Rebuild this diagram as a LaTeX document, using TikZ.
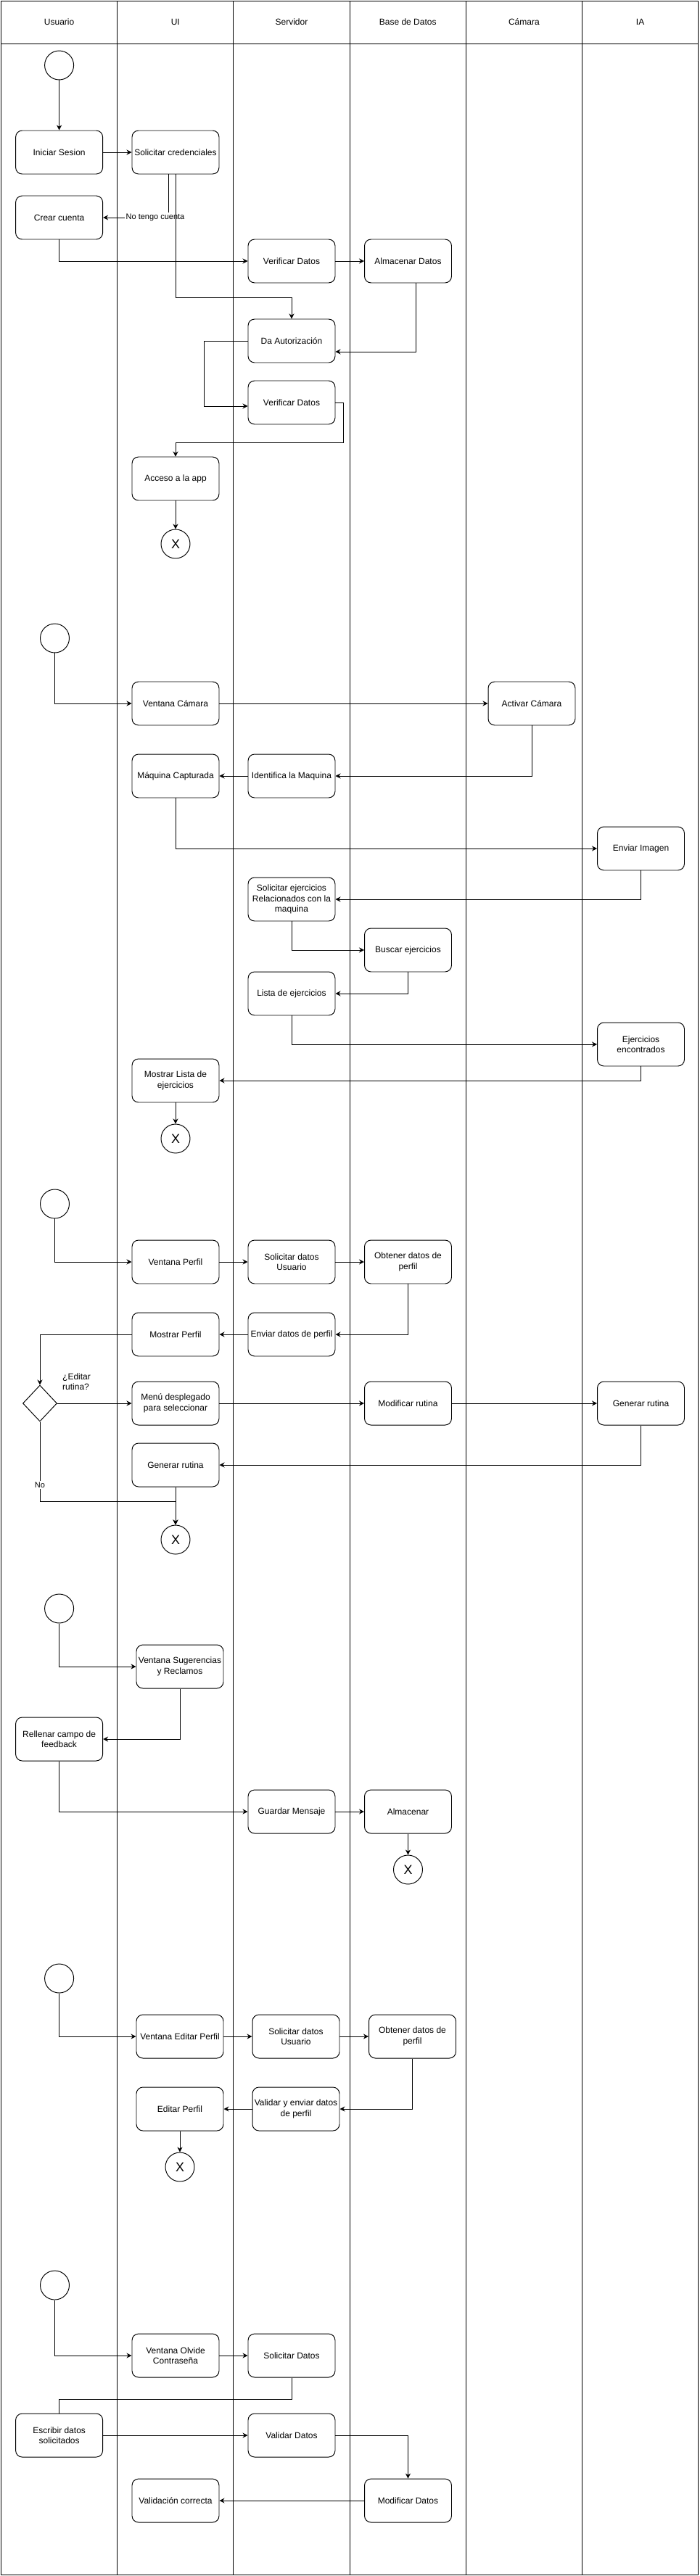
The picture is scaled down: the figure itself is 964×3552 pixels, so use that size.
\documentclass[tikz,border=0pt]{standalone}
\usepackage{fontspec}
\setmainfont{Liberation Sans}
\usetikzlibrary{shapes.geometric,arrows.meta,positioning,calc}

\begin{document}
\begin{tikzpicture}[
    x=0.02cm, y=-0.02cm,
    font=\fontsize{6.83pt}{8.2pt}\selectfont,
    lane/.style={draw, line width=0.55pt},
    box/.style={draw, rounded corners=0.18cm, minimum width=2.4cm, minimum height=1.2cm, inner sep=1pt, align=center, fill=white, line width=0.55pt},
    startev/.style={draw, circle, minimum size=0.8cm, inner sep=0pt, fill=white, line width=0.55pt},
    endev/.style={startev, font=\fontsize{10.2pt}{12pt}\selectfont},
    decision/.style={draw, diamond, aspect=0.94, minimum width=0.94cm, minimum height=1cm, inner sep=0pt, fill=white, line width=0.55pt},
    link/.style={line width=0.5pt},
    arrow/.style={link, -{Stealth[length=4pt, width=4pt]}},
    edgelbl/.style={font=\fontsize{6.26pt}{7.5pt}\selectfont, fill=white, inner sep=1pt}
]
\useasboundingbox (0,0) rectangle (964,3552);

% Swimlanes with headers
\foreach \lname [count=\i from 0] in {Usuario,UI,Servidor,Base de Datos,Cámara,IA} {
    \draw[lane] ({1.5+160.2*\i},1) rectangle ++(160.2,3549);
    \draw[lane] ({1.5+160.2*\i},60) -- ++(160.2,0);
    \node (lane\i) at ({81.6+160.2*\i},30) {\lname};
}

% Login / crear cuenta
\node[startev] (ini1) at (81.6,90) {};
\node[box] (sesion) at (81.6,210) {Iniciar Sesion};
\node[box] (cred) at (242,210) {Solicitar credenciales};
\node[box] (crear) at (81.6,300) {Crear cuenta};
\node[box] (verif1) at (402,360) {Verificar Datos};
\node[box] (almac1) at (562.5,360) {Almacenar Datos};
\node[box] (autor) at (402,470) {Da Autorización};
\node[box] (verif2) at (402,555) {Verificar Datos};
\node[box] (acceso) at (242,660) {Acceso a la app};
\node[endev] (fin1) at (242,750) {X};

\draw[arrow] (ini1) -- (sesion);
\draw[arrow] (sesion) -- (cred);
\draw[arrow] ([xshift=-0.2cm]cred.south) |- node[edgelbl, pos=0.6] {No tengo cuenta} (crear.east);
\draw[arrow] (cred.south) -- ++(0,170) -| (autor.north);
\draw[arrow] (crear.south) |- (verif1.west);
\draw[arrow] (verif1) -- (almac1);
\draw[arrow] ([xshift=0.21cm]almac1.south) |- ([yshift=-0.3cm]autor.east);
\draw[arrow] (autor.west) -- ++(-60,0) |- ([yshift=-0.1cm]verif2.west);
\draw[arrow] (verif2.east) -- ++(10.6,0) -- ++(0,55) -| (acceso.north);
\draw[arrow] (acceso) -- (fin1);

% Camara / ejercicios
\node[startev] (ini2) at (75.5,880) {};
\node[box] (vcam) at (242,970) {Ventana Cámara};
\node[box] (acam) at (733,970) {Activar Cámara};
\node[box] (ident) at (402,1070) {Identifica la Maquina};
\node[box] (capt) at (242,1070) {Máquina Capturada};
\node[box] (envimg) at (883.5,1170) {Enviar Imagen};
\node[box] (solej) at (402,1240) {Solicitar ejercicios\\Relacionados con la\\maquina};
\node[box] (busc) at (562.5,1310) {Buscar ejercicios};
\node[box] (lista) at (402,1370) {Lista de ejercicios};
\node[box] (encon) at (883.5,1440) {Ejercicios\\encontrados};
\node[box] (mostl) at (242,1490) {Mostrar Lista de\\ejercicios};
\node[endev] (fin2) at (242,1570) {X};

\draw[arrow] (ini2.south) |- (vcam.west);
\draw[arrow] (vcam) -- (acam);
\draw[arrow] (acam.south) |- (ident.east);
\draw[arrow] (ident) -- (capt);
\draw[arrow] (capt.south) |- (envimg.west);
\draw[arrow] (envimg.south) |- (solej.east);
\draw[arrow] (solej.south) |- (busc.west);
\draw[arrow] (busc.south) |- (lista.east);
\draw[arrow] (lista.south) |- (encon.west);
\draw[arrow] (encon.south) |- (mostl.east);
\draw[arrow] (mostl) -- (fin2);

% Perfil / rutina
\node[startev] (ini3) at (75.5,1660) {};
\node[box] (vperf) at (242,1740) {Ventana Perfil};
\node[box] (soldat) at (402,1740) {Solicitar datos\\Usuario};
\node[box] (obten) at (562.5,1740) {Obtener datos de\\perfil};
\node[box] (envdat) at (402,1840) {Enviar datos de perfil};
\node[box] (mperf) at (242,1840) {Mostrar Perfil};
\node[decision] (dec) at (55,1935) {};
\node[anchor=west, align=left] (declbl) at (80,1905) {¿Editar\\rutina?};
\node[box] (menu) at (242,1935) {Menú desplegado\\para seleccionar};
\node[box] (modr) at (562.5,1935) {Modificar rutina};
\node[box] (genia) at (883.5,1935) {Generar rutina};
\node[box] (genui) at (242,2020) {Generar rutina};
\node[endev] (fin3) at (242,2123) {X};

\draw[arrow] (ini3.south) |- (vperf.west);
\draw[arrow] (vperf) -- (soldat);
\draw[arrow] (soldat) -- (obten);
\draw[arrow] (obten.south) |- (envdat.east);
\draw[arrow] (envdat) -- (mperf);
\draw[arrow] (mperf.west) -| (dec.north);
\draw[arrow] (dec.east) -- (menu.west);
\draw[arrow] (menu) -- (modr);
\draw[arrow] (modr) -- (genia);
\draw[arrow] (genia.south) |- (genui.east);
\draw[arrow] (dec.south) -- node[edgelbl, pos=0.79] {No} ++(0,110) -| (fin3.north);
\draw[arrow] (genui) -- (fin3);

% Sugerencias y reclamos
\node[startev] (ini4) at (81.6,2218) {};
\node[box] (vsug) at (248,2298) {Ventana Sugerencias\\y Reclamos};
\node[box] (rell) at (81.6,2398) {Rellenar campo de\\feedback};
\node[box] (guard) at (402,2498) {Guardar Mensaje};
\node[box] (almac2) at (562.5,2498) {Almacenar};
\node[endev] (fin4) at (562.5,2578) {X};

\draw[arrow] (ini4.south) |- (vsug.west);
\draw[arrow] (vsug.south) |- (rell.east);
\draw[arrow] (rell.south) |- (guard.west);
\draw[arrow] (guard) -- (almac2);
\draw[arrow] (almac2) -- (fin4);

% Editar perfil
\node[startev] (ini5) at (81.6,2728) {};
\node[box] (vedit) at (248,2808) {Ventana Editar Perfil};
\node[box] (soldat2) at (408,2808) {Solicitar datos\\Usuario};
\node[box] (obten2) at (568.5,2808) {Obtener datos de\\perfil};
\node[box] (valenv) at (408,2908) {Validar y enviar datos\\de perfil};
\node[box] (edperf) at (248,2908) {Editar Perfil};
\node[endev] (fin5) at (248,2988) {X};

\draw[arrow] (ini5.south) |- (vedit.west);
\draw[arrow] (vedit) -- (soldat2);
\draw[arrow] (soldat2) -- (obten2);
\draw[arrow] (obten2.south) |- (valenv.east);
\draw[arrow] (valenv) -- (edperf);
\draw[arrow] (edperf) -- (fin5);

% Olvide contrasena
\node[startev] (ini6) at (75.5,3151) {};
\node[box] (volv) at (242,3248) {Ventana Olvide\\Contraseña};
\node[box] (soldat3) at (402,3248) {Solicitar Datos};
\node[box] (escr) at (81.6,3358) {Escribir datos\\solicitados};
\node[box] (valid) at (402,3358) {Validar Datos};
\node[box] (moddat) at (562.5,3448) {Modificar Datos};
\node[box] (valcor) at (242,3448) {Validación correcta};

\draw[arrow] (ini6.south) |- (volv.west);
\draw[arrow] (volv) -- (soldat3);
\draw[link] (soldat3.south) -- ++(0,30) -| (escr.north);
\draw[arrow] (escr) -- (valid);
\draw[arrow] (valid.east) -| (moddat.north);
\draw[arrow] (moddat) -- (valcor);

\end{tikzpicture}
\end{document}
